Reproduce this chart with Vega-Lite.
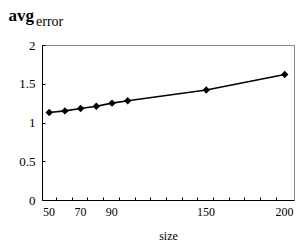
{
  "$schema": "https://vega.github.io/schema/vega-lite/v6.json",
  "width": 252,
  "height": 155,
  "autosize": "none",
  "padding": {"left": 42, "top": 45, "right": 10, "bottom": 50},
  "background": "white",
  "config": {
    "view": {"stroke": "#888888", "strokeWidth": 1},
    "font": "Liberation Serif"
  },
  "title": {
    "text": "error",
    "anchor": "start",
    "frame": "group",
    "orient": "top",
    "baseline": "alphabetic",
    "offset": 0,
    "dx": -6,
    "dy": 33,
    "font": "Liberation Serif",
    "fontSize": 14,
    "fontWeight": "normal",
    "color": "black"
  },
  "data": {
    "values": [
      {"size": 50, "avg_error": 1.13},
      {"size": 60, "avg_error": 1.15},
      {"size": 70, "avg_error": 1.18},
      {"size": 80, "avg_error": 1.21},
      {"size": 90, "avg_error": 1.25},
      {"size": 100, "avg_error": 1.28},
      {"size": 150, "avg_error": 1.42},
      {"size": 200, "avg_error": 1.62}
    ]
  },
  "encoding": {
    "x": {
      "field": "size",
      "type": "quantitative",
      "scale": {"domain": [45.4, 205.9], "nice": false, "zero": false},
      "axis": {
        "title": "size",
        "titleFont": "Liberation Serif",
        "titleFontSize": 12,
        "titleFontWeight": "normal",
        "titleColor": "black",
        "titlePadding": 13,
        "values": [50, 60, 70, 80, 90, 100, 110, 120, 130, 140, 150, 160, 170, 180, 190, 200],
        "labelExpr": "(datum.value == 50 || datum.value == 70 || datum.value == 90 || datum.value == 150 || datum.value == 200) ? datum.label : ''",
        "labelFont": "Liberation Serif",
        "labelFontSize": 12,
        "labelColor": "black",
        "labelPadding": 9,
        "labelOverlap": false,
        "labelFlush": false,
        "tickOffset": 6.8,
        "labelOffset": -7.5,
        "tickSize": -3,
        "tickColor": {"condition": {"test": "datum.value == 200", "value": "transparent"}, "value": "black"},
        "domainColor": "black",
        "grid": false
      }
    },
    "y": {
      "field": "avg_error",
      "type": "quantitative",
      "scale": {"domain": [0, 2], "nice": false},
      "axis": {
        "title": "avg",
        "titleAngle": 0,
        "titleAlign": "left",
        "titleBaseline": "alphabetic",
        "titleX": -34,
        "titleY": -24.5,
        "titleFont": "Liberation Serif",
        "titleFontSize": 17,
        "titleFontWeight": "bold",
        "titleColor": "black",
        "values": [0, 0.5, 1, 1.5, 2],
        "format": "~g",
        "labelFont": "Liberation Serif",
        "labelFontSize": 13,
        "labelColor": "black",
        "labelPadding": 10,
        "tickSize": -3,
        "tickColor": "black",
        "domainColor": "black",
        "grid": false
      }
    }
  },
  "layer": [
    {"mark": {"type": "line", "color": "black", "strokeWidth": 1.6}},
    {"mark": {"type": "point", "shape": "diamond", "filled": true, "color": "black", "opacity": 1, "size": 55}}
  ]
}
